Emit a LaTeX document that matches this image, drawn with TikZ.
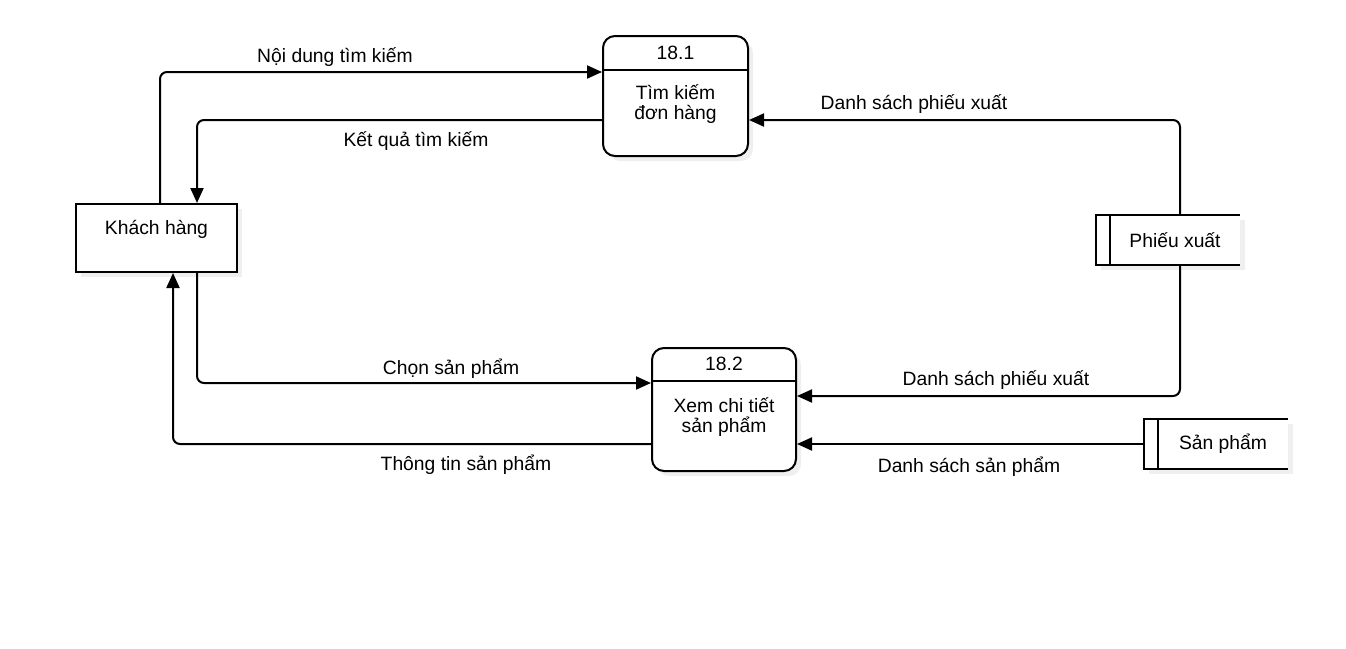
\documentclass[tikz,border=0pt]{standalone}
\usepackage{fontspec}
\setmainfont{Liberation Sans}
\usetikzlibrary{arrows.meta,shadows}
\begin{document}
\begin{tikzpicture}[x=1pt,y=-1pt,
  every node/.style={font=\fontsize{19.3}{22}\selectfont, inner sep=0pt},
  box/.style={draw, line width=2pt, fill=white, drop shadow={opacity=0.12, shadow xshift=5pt, shadow yshift=-5pt}},
  proc/.style={box, rounded corners=12pt},
  store/.style={fill=white, minimum width=144pt, minimum height=50pt, drop shadow={opacity=0.12, shadow xshift=5pt, shadow yshift=-5pt}},
  flow/.style={line width=2pt, rounded corners=7pt, -{Triangle[length=15pt,width=13pt]}},
  lbl/.style={text=black}]
\fill[white] (0,0) rectangle (1346,648);
\useasboundingbox (0,0) rectangle (1346,648);

% external entity
\node[box, minimum width=161pt, minimum height=68pt] (kh) at (156.5,238) {};
\node (khT) at ([yshift=-26pt]kh.north) {Khách hàng};

% process 18.1
\node[proc, minimum width=145pt, minimum height=120pt] (p1) at (675.5,96) {};
\draw[line width=2pt] ([yshift=-35pt]p1.north west) -- ([yshift=-35pt]p1.north east);
\node (p1n) at ([yshift=-18pt]p1.north) {18.1};
\node[align=center, font=\fontsize{19.3}{19.5}\selectfont] (p1t) at (675.5,104) {Tìm kiếm\\đơn hàng};

% process 18.2
\node[proc, minimum width=144pt, minimum height=123pt] (p2) at (724,409.5) {};
\draw[line width=2pt] ([yshift=-34pt]p2.north west) -- ([yshift=-34pt]p2.north east);
\node (p2n) at ([yshift=-17pt]p2.north) {18.2};
\node[align=center, font=\fontsize{19.3}{19.5}\selectfont] (p2t) at (724,417) {Xem chi tiết\\sản phẩm};

% data store Phiếu xuất
\node[store] (px) at (1168,240) {};
\draw[line width=2pt] (px.north east) -- (px.north west) -- (px.south west) -- (px.south east);
\draw[line width=2pt] ([xshift=14pt]px.north west) -- ([xshift=14pt]px.south west);
\node (pxT) at (1175,240) {Phiếu xuất};

% data store Sản phẩm
\node[store] (sp) at (1216,444) {};
\draw[line width=2pt] (sp.north east) -- (sp.north west) -- (sp.south west) -- (sp.south east);
\draw[line width=2pt] ([xshift=14pt]sp.north west) -- ([xshift=14pt]sp.south west);
\node (spT) at (1223,444) {Sản phẩm};

% flows
\draw[flow] ([xshift=3.5pt]kh.north) |- ([yshift=24pt]p1.west);
\draw[flow] ([yshift=-24pt]p1.west) -| ([xshift=40.5pt]kh.north);
\draw[flow] ([xshift=12pt]px.north) |- ([yshift=-24pt]p1.east);
\draw[flow] ([xshift=12pt]px.south) |- ([yshift=13.5pt]p2.east);
\draw[flow] (sp.west) -- (p2.east |- sp.west);
\draw[flow] ([xshift=40.5pt]kh.south) |- ([yshift=26.5pt]p2.west);
\draw[flow] ([yshift=-34.5pt]p2.west) -| ([xshift=16.5pt]kh.south);

% labels
\node[lbl] (l1) at (335,57) {Nội dung tìm kiếm};
\node[lbl] (l2) at (416,141) {Kết quả tìm kiếm};
\node[lbl] (l3) at (914,104) {Danh sách phiếu xuất};
\node[lbl] (l4) at (996,380) {Danh sách phiếu xuất};
\node[lbl] (l5) at (969,467) {Danh sách sản phẩm};
\node[lbl] (l6) at (451,369) {Chọn sản phẩm};
\node[lbl] (l7) at (466,465) {Thông tin sản phẩm};
\end{tikzpicture}
\end{document}
